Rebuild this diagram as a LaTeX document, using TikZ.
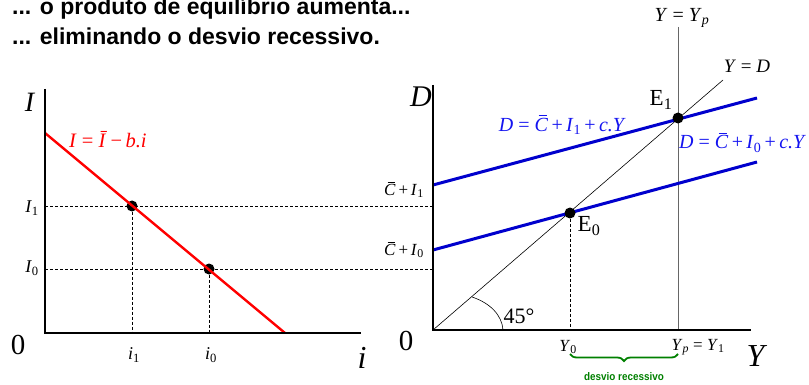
\documentclass[tikz,border=0pt]{standalone}
\usepackage{fontspec}
\setmainfont{Liberation Serif}
\newfontfamily\titlefont{Liberation Sans}
\usetikzlibrary{decorations.pathreplacing}
\definecolor{myred}{RGB}{255,0,0}
\definecolor{myblue}{RGB}{0,0,205}
\definecolor{mytxtblue}{RGB}{20,20,240}
\definecolor{mygreen}{RGB}{0,128,0}
\newcommand\cbar{\ooalign{\textit{C}\cr\hidewidth\kern0.15em\rule[0.74em]{0.42em}{0.05em}\hidewidth\cr}}
\newcommand\fs[1]{\fontsize{#1}{#1}\selectfont}
\begin{document}
\begin{tikzpicture}[x=1pt,y=-1pt,
  axis/.style={line width=1.5pt,black},
  guide/.style={dashed,line width=0.7pt,dash pattern=on 3pt off 2pt},
  dotpt/.style={circle,fill=black,inner sep=0pt,minimum size=11pt},
  lbl/.style={inner sep=0pt},
  redline/.style={line width=2.4pt,myred},
  blueline/.style={line width=3pt,myblue}]
\useasboundingbox (0,0) rectangle (809,385);
% title
\node[lbl,anchor=base west] (t1) at (12,15) {\titlefont\bfseries\fs{23}... o produto de equilíbrio aumenta...};
\node[lbl,anchor=base west] (t2) at (12,45) {\titlefont\bfseries\fs{23}... eliminando o desvio recessivo.};
% left panel
\coordinate (LO) at (45,333);
\coordinate (Ltop) at (45,89);
\coordinate (Lright) at (361,333);
\coordinate (Rs) at (45,133);
\coordinate (Re) at (285,333);
\coordinate (LI1) at (45,206);
\coordinate (LI0) at (45,269);
\coordinate (Li1) at (132,333);
\coordinate (Li0) at (209,333);
% right panel
\coordinate (RO) at (433,330);
\coordinate (Rtop) at (433,85);
\coordinate (Rright) at (751,330);
\coordinate (RI1) at (433,206);
\coordinate (RI0) at (433,269);
\coordinate (B1s) at (433,185);
\coordinate (B1e) at (757,98);
\coordinate (B0s) at (433,250);
\coordinate (B0e) at (757,162);
\coordinate (YDe) at (723,80);
\coordinate (Ypt) at (678,27);
\coordinate (Ypb) at (678,330);
\coordinate (Y0b) at (570,330);
% guides
\draw[guide] (LI1) -- (RI1);
\draw[guide] (LI0) -- (RI0);
\node[dotpt] (P1) at (132,206) {};
\node[dotpt] (P0) at (209,269) {};
\draw[guide] (P1) -- (Li1);
\draw[guide] (P0) -- (Li0);
% lines
\draw[redline] (Rs) -- (Re);
\draw[axis] (Ltop) -- (LO) -- (Lright);
\draw[line width=0.6pt] (RO) -- (YDe);
\draw[line width=1pt,black!60] (Ypt) -- (Ypb);
\draw[blueline] (B1s) -- (B1e);
\draw[blueline] (B0s) -- (B0e);
\node[dotpt] (E0) at (570,213) {};
\node[dotpt] (E1) at (678,118) {};
\draw[guide] (E0) -- (Y0b);
\draw[axis] (Rtop) -- (RO) -- (Rright);
\draw[line width=0.6pt] (472,297) .. controls (490,303) and (502,315) .. (503,330);
% brace
\draw[mygreen,line width=1.8pt,decorate,decoration={brace,amplitude=7pt,mirror}] (570,354) -- (678,354);
% labels left
\node[lbl] (lI) at (30,102) {\fs{28}\textit{I}};
\node[lbl,anchor=west,myred] (lred) at (69,140) {\fs{20.5}\textit{I} = \textit{\=I}\,−\,\textit{b.i}};
\node[lbl] (lI1) at (32,208) {\fs{18}\textit{I}\textsubscript{1}};
\node[lbl] (lI0) at (32,268) {\fs{18}\textit{I}\textsubscript{0}};
\node[lbl] (l0) at (18,345) {\fs{29}0};
\node[lbl] (li1) at (134,355) {\fs{18}\textit{i}\textsubscript{1}};
\node[lbl] (li0) at (211,355) {\fs{18}\textit{i}\textsubscript{0}};
\node[lbl] (li) at (362,358) {\fs{32}\textit{i}};
% labels right
\node[lbl] (lD) at (421,97) {\fs{30}\textit{D}};
\node[lbl,anchor=west] (lCI1) at (384,191) {\fs{17}\cbar\,+\,\textit{I}\textsubscript{1}};
\node[lbl,anchor=west] (lCI0) at (384,251) {\fs{17}\cbar\,+\,\textit{I}\textsubscript{0}};
\node[lbl,anchor=east,mytxtblue] (lD1) at (626,126) {\fs{20}\textit{D} = \cbar\,+\,\textit{I}\textsubscript{1}\,+\,\textit{c.Y}};
\node[lbl,anchor=west,mytxtblue] (lD0) at (679,144) {\fs{20}\textit{D} = \cbar\,+\,\textit{I}\textsubscript{0}\,+\,\textit{c.Y}};
\node[lbl] (lE1) at (661,100) {\fs{23}E\textsubscript{1}};
\node[lbl] (lE0) at (589,226) {\fs{23}E\textsubscript{0}};
\node[lbl] (lYp) at (682,18) {\fs{20}\textit{Y} = \textit{Y}\textsubscript{\textit{p}}};
\node[lbl] (lYD) at (747,66) {\fs{19}\textit{Y} = \textit{D}};
\node[lbl] (l45) at (519,316) {\fs{22}45°};
\node[lbl] (lR0) at (406,341) {\fs{29}0};
\node[lbl] (lY0) at (568,347) {\fs{17}\textit{Y}\textsubscript{0}};
\node[lbl] (lYp1) at (698,347) {\fs{17}\textit{Y}\textsubscript{\textit{p}} = \textit{Y}\textsubscript{1}};
\node[lbl] (lY) at (757,356) {\fs{32}\textit{Y}};
\node[lbl,mygreen] (ldes) at (624,377) {\titlefont\bfseries\fs{11}\scalebox{0.9}[1]{desvio recessivo}};
\end{tikzpicture}
\end{document}
